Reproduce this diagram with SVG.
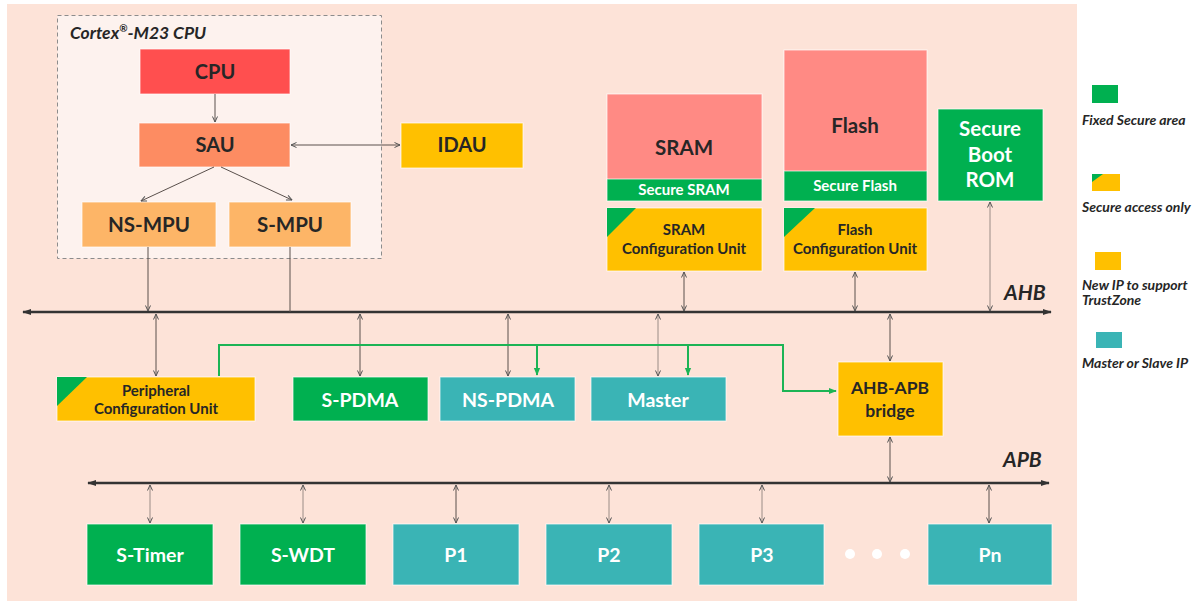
<svg xmlns="http://www.w3.org/2000/svg" width="1199" height="601" viewBox="0 0 1199 601">
<style>
.t{font-family:Lato,"Liberation Sans",sans-serif;font-weight:bold;text-anchor:middle}
.d{fill:#262626}
.w{fill:#ffffff}
.l{font-family:Lato,"Liberation Sans",sans-serif;font-weight:bold;font-style:italic;fill:#262626}
.box{stroke:#ffffff;stroke-width:1;stroke-opacity:0.7}
.c{stroke:#5a504c;stroke-width:1;fill:none}
.c2{stroke:#9a8c86;stroke-width:1;fill:none}
.bus{stroke:#333;stroke-width:2.5;fill:none}
.g{stroke:#1cb455;stroke-width:2;fill:none}
</style>
<defs>
<marker id="ah" viewBox="0 0 8 8" refX="7.5" refY="4" markerWidth="8" markerHeight="8" markerUnits="userSpaceOnUse" orient="auto-start-reverse"><path d="M2,1.5 L7.5,4 L2,6.5" fill="none" stroke="#555" stroke-width="1"/></marker>
<marker id="bh" viewBox="0 0 10 10" refX="9" refY="5" markerWidth="9" markerHeight="9" markerUnits="userSpaceOnUse" orient="auto-start-reverse"><path d="M0,1.5 L10,5 L0,8.5 Z" fill="#333"/></marker>
<marker id="gh" viewBox="0 0 10 10" refX="9" refY="5" markerWidth="8" markerHeight="8" markerUnits="userSpaceOnUse" orient="auto"><path d="M0,1 L10,5 L0,9 Z" fill="#1cb455"/></marker>
</defs>
<rect x="0" y="0" width="1199" height="601" fill="#ffffff"/>
<rect x="7" y="4" width="1070" height="597" fill="#fde3d8"/>

<g id="cpu-group">
<rect x="57.5" y="15.5" width="324" height="243" fill="#fdf2ee" stroke="#8c8c8c" stroke-width="1" stroke-dasharray="4,3"/>
<text x="70" y="39" class="l" font-size="17.5">Cortex<tspan font-size="10" dy="-7">®</tspan><tspan dy="7">-M23 CPU</tspan></text>
</g>
<g id="cpu"><rect class="box" x="140" y="49" width="150" height="45" fill="#ff4f4f"/><text class="t d" x="215" y="79" font-size="20">CPU</text></g>
<g id="sau"><rect class="box" x="139" y="123" width="151" height="44" fill="#fd8c62"/><text class="t d" x="215" y="152" font-size="20">SAU</text></g>
<g id="ns-mpu"><rect class="box" x="82" y="202" width="134" height="45" fill="#fdb567"/><text class="t d" x="149" y="232" font-size="20.5">NS-MPU</text></g>
<g id="s-mpu"><rect class="box" x="229" y="202" width="122" height="45" fill="#fdb567"/><text class="t d" x="290" y="232" font-size="20.5">S-MPU</text></g>
<g id="idau"><rect class="box" x="401" y="123" width="122" height="45" fill="#ffc000"/><text class="t d" x="462" y="152" font-size="20">IDAU</text></g>

<g id="sram"><rect class="box" x="607" y="94" width="155" height="86" fill="#ff8a84"/><rect class="box" x="607" y="179" width="155" height="22" fill="#00b050"/><text class="t d" x="684" y="155" font-size="20.5">SRAM</text><text class="t w" x="684" y="195" font-size="15">Secure SRAM</text></g>
<g id="sram-cfg"><rect class="box" x="607" y="208" width="155" height="63" fill="#ffc000"/><path d="M607,208 L636,208 L607,237 Z" fill="#00b050"/><text class="t d" x="684" y="235" font-size="15">SRAM</text><text class="t d" x="684" y="254" font-size="15">Configuration Unit</text></g>
<g id="flash"><rect class="box" x="784" y="50" width="143" height="122" fill="#ff8a84"/><rect class="box" x="784" y="171" width="143" height="30" fill="#00b050"/><text class="t d" x="855" y="133" font-size="20.5">Flash</text><text class="t w" x="855" y="191" font-size="15">Secure Flash</text></g>
<g id="flash-cfg"><rect class="box" x="784" y="208" width="143" height="63" fill="#ffc000"/><path d="M784,208 L815,208 L784,237 Z" fill="#00b050"/><text class="t d" x="855" y="235" font-size="15">Flash</text><text class="t d" x="855" y="254" font-size="15">Configuration Unit</text></g>
<g id="boot-rom"><rect class="box" x="938" y="109" width="105" height="92" fill="#00b050"/><text class="t w" x="990" y="136" font-size="20.5">Secure</text><text class="t w" x="990" y="162" font-size="20.5">Boot</text><text class="t w" x="990" y="187" font-size="20.5">ROM</text></g>

<g id="periph-cfg"><rect class="box" x="57" y="377" width="198" height="44" fill="#ffc000"/><path d="M57,377 L87,377 L57,406 Z" fill="#00b050"/><text class="t d" x="156" y="396" font-size="15">Peripheral</text><text class="t d" x="156" y="414" font-size="15">Configuration Unit</text></g>
<g id="s-pdma"><rect class="box" x="293" y="377" width="135" height="44" fill="#00b050"/><text class="t w" x="360" y="407" font-size="19.5">S-PDMA</text></g>
<g id="ns-pdma"><rect class="box" x="440" y="377" width="135" height="44" fill="#3ab4b5"/><text class="t w" x="508" y="407" font-size="19.5">NS-PDMA</text></g>
<g id="master"><rect class="box" x="591" y="377" width="135" height="44" fill="#3ab4b5"/><text class="t w" x="658" y="407" font-size="19.5">Master</text></g>
<g id="bridge"><rect class="box" x="838" y="362" width="105" height="74" fill="#ffc000"/><text class="t d" x="890" y="394" font-size="17.5">AHB-APB</text><text class="t d" x="890" y="417" font-size="17.5">bridge</text></g>

<g id="s-timer"><rect class="box" x="87" y="524" width="126" height="61" fill="#00b050"/><text class="t w" x="150" y="562" font-size="19.5">S-Timer</text></g>
<g id="s-wdt"><rect class="box" x="240" y="524" width="126" height="61" fill="#00b050"/><text class="t w" x="303" y="562" font-size="19.5">S-WDT</text></g>
<g id="p1"><rect class="box" x="393" y="524" width="126" height="61" fill="#3ab4b5"/><text class="t w" x="456" y="562" font-size="19.5">P1</text></g>
<g id="p2"><rect class="box" x="546" y="524" width="126" height="61" fill="#3ab4b5"/><text class="t w" x="609" y="562" font-size="19.5">P2</text></g>
<g id="p3"><rect class="box" x="699" y="524" width="125" height="61" fill="#3ab4b5"/><text class="t w" x="762" y="562" font-size="19.5">P3</text></g>
<g id="dots"><circle cx="850" cy="554" r="5" fill="#ffffff"/><circle cx="877" cy="554" r="5" fill="#ffffff"/><circle cx="905" cy="554" r="5" fill="#ffffff"/></g>
<g id="pn"><rect class="box" x="928" y="524" width="124" height="61" fill="#3ab4b5"/><text class="t w" x="990" y="562" font-size="19.5">Pn</text></g>

<g id="buses">
<line class="bus" x1="23" y1="312" x2="1051" y2="312" marker-start="url(#bh)" marker-end="url(#bh)"/>
<text class="l" x="1004" y="300" font-size="21">AHB</text>
<line class="bus" x1="88" y1="483" x2="1049" y2="483" marker-start="url(#bh)" marker-end="url(#bh)"/>
<text class="l" x="1003" y="467" font-size="21">APB</text>
</g>

<g id="connectors">
<line class="c" x1="215" y1="94" x2="215" y2="122" marker-end="url(#ah)"/>
<line class="c" x1="214" y1="167" x2="141" y2="201" marker-end="url(#ah)"/>
<line class="c" x1="221" y1="167" x2="292" y2="200" marker-end="url(#ah)"/>
<line class="c" x1="291" y1="145" x2="400" y2="145" marker-start="url(#ah)" marker-end="url(#ah)"/>
<line class="c" x1="148" y1="247" x2="148" y2="311" marker-end="url(#ah)"/>
<line class="c" x1="290" y1="247" x2="290" y2="312"/>
<line class="c" x1="684" y1="272" x2="684" y2="311" marker-start="url(#ah)" marker-end="url(#ah)"/>
<line class="c" x1="855" y1="272" x2="855" y2="311" marker-start="url(#ah)" marker-end="url(#ah)"/>
<line class="c2" x1="990" y1="202" x2="990" y2="311" marker-start="url(#ah)" marker-end="url(#ah)"/>
<line class="c" x1="156" y1="314" x2="156" y2="376" marker-start="url(#ah)" marker-end="url(#ah)"/>
<line class="c" x1="360" y1="314" x2="360" y2="376" marker-start="url(#ah)" marker-end="url(#ah)"/>
<line class="c" x1="508" y1="314" x2="508" y2="376" marker-start="url(#ah)" marker-end="url(#ah)"/>
<line class="c2" x1="658" y1="314" x2="658" y2="376" marker-start="url(#ah)" marker-end="url(#ah)"/>
<line class="c" x1="890" y1="314" x2="890" y2="361" marker-start="url(#ah)" marker-end="url(#ah)"/>
<line class="c" x1="890" y1="437" x2="890" y2="482" marker-start="url(#ah)" marker-end="url(#ah)"/>
<line class="c2" x1="150" y1="485" x2="150" y2="523" marker-start="url(#ah)" marker-end="url(#ah)"/>
<line class="c2" x1="303" y1="485" x2="303" y2="523" marker-start="url(#ah)" marker-end="url(#ah)"/>
<line class="c" x1="456" y1="485" x2="456" y2="523" marker-start="url(#ah)" marker-end="url(#ah)"/>
<line class="c2" x1="609" y1="485" x2="609" y2="523" marker-start="url(#ah)" marker-end="url(#ah)"/>
<line class="c2" x1="762" y1="485" x2="762" y2="523" marker-start="url(#ah)" marker-end="url(#ah)"/>
<line class="c" x1="989" y1="485" x2="989" y2="523" marker-start="url(#ah)" marker-end="url(#ah)"/>
<polyline class="g" points="219,376 219,345 783,345 783,391 836,391" marker-end="url(#gh)"/>
<line class="g" x1="537" y1="345" x2="537" y2="375" marker-end="url(#gh)"/>
<line class="g" x1="688" y1="345" x2="688" y2="375" marker-end="url(#gh)"/>
</g>

<g id="legend">
<rect x="1092" y="85" width="26" height="18" fill="#00b050"/>
<text class="l" x="1082" y="125" font-size="14">Fixed Secure area</text>
<rect x="1092" y="174" width="28" height="17" fill="#ffc000"/>
<path d="M1092,174 L1103,174 L1092,182 Z" fill="#00b050"/>
<text class="l" x="1082" y="212" font-size="14">Secure access only</text>
<rect x="1095" y="252" width="26" height="18" fill="#ffc000"/>
<text class="l" x="1082" y="290" font-size="14">New IP to support</text>
<text class="l" x="1082" y="305" font-size="14">TrustZone</text>
<rect x="1096" y="332" width="26" height="16" fill="#3ab4b5"/>
<text class="l" x="1082" y="368" font-size="14">Master or Slave IP</text>
</g>
</svg>
